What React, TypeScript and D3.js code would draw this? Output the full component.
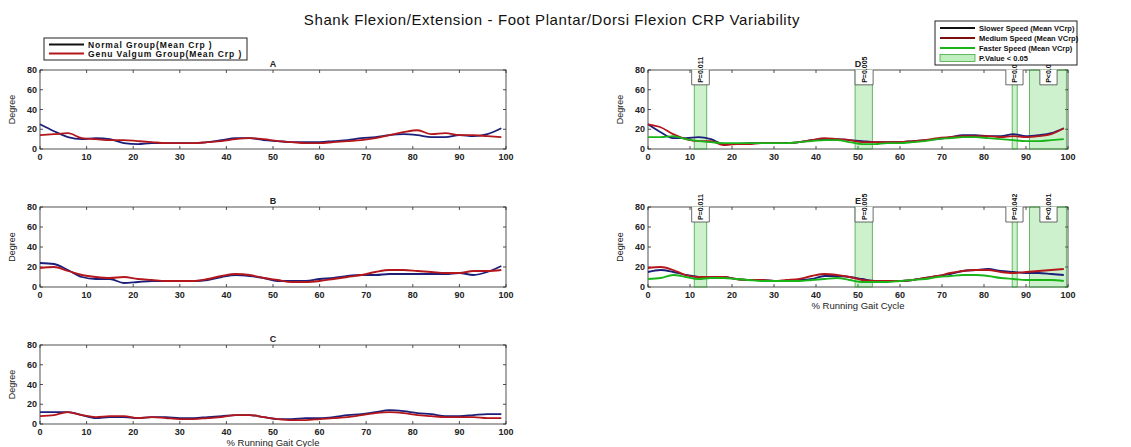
import React from 'react';
import * as d3 from 'd3';

// % of running gait cycle where the curves were sampled
const gaitPct = [0, 3, 6, 9, 12, 15, 18, 21, 24, 27, 30, 33, 36, 39, 42, 45, 48, 51, 54, 57, 60, 63, 66, 69, 72, 75, 78, 81, 84, 87, 90, 93, 96, 99];

// group comparison (left column)
const normalA = [25, 18, 12, 10, 11, 10, 6, 5, 6, 6, 6, 6, 7, 9, 11, 11, 9, 8, 7, 7, 7, 8, 9, 11, 12, 14, 15, 14, 12, 12, 14, 13, 15, 21];
const valgumA = [14, 15, 16, 11, 10, 9, 9, 8, 7, 6, 6, 6, 7, 8, 10, 11, 10, 8, 7, 6, 6, 7, 8, 9, 11, 14, 17, 19, 15, 16, 14, 14, 13, 12];
const normalB = [24, 23, 17, 10, 8, 8, 4, 5, 6, 6, 6, 6, 7, 10, 12, 11, 9, 6, 6, 6, 8, 9, 11, 12, 12, 13, 13, 13, 13, 13, 14, 12, 15, 21];
const valgumB = [19, 20, 16, 12, 10, 9, 10, 8, 7, 6, 6, 6, 8, 11, 13, 12, 9, 7, 5, 5, 6, 8, 10, 12, 15, 17, 17, 16, 15, 14, 14, 16, 16, 17];
const normalC = [12, 12, 12, 9, 6, 7, 7, 6, 7, 7, 6, 6, 7, 8, 9, 9, 7, 5, 5, 6, 6, 7, 9, 10, 12, 14, 13, 11, 10, 8, 8, 9, 10, 10];
const valgumC = [8, 9, 12, 9, 7, 8, 8, 6, 7, 6, 5, 5, 6, 7, 9, 9, 7, 5, 4, 4, 5, 6, 7, 9, 11, 12, 11, 9, 8, 7, 7, 7, 6, 6];

// speed comparison (right column)
const slowerD = [25, 17, 11, 11, 12, 10, 5, 5, 6, 6, 6, 6, 7, 9, 10, 10, 9, 8, 7, 7, 7, 8, 9, 10, 12, 14, 14, 13, 13, 15, 13, 14, 16, 21];
const mediumD = [25, 22, 15, 10, 8, 8, 4, 5, 5, 6, 6, 6, 7, 9, 11, 10, 9, 7, 7, 7, 7, 8, 9, 11, 12, 13, 13, 13, 12, 13, 12, 13, 15, 21];
const fasterD = [12, 12, 13, 10, 8, 7, 6, 6, 6, 6, 6, 6, 7, 8, 9, 9, 7, 5, 5, 6, 6, 7, 8, 10, 11, 12, 12, 11, 10, 9, 8, 8, 9, 10];
const slowerE = [15, 17, 15, 12, 10, 9, 10, 8, 7, 7, 6, 6, 7, 8, 11, 11, 10, 8, 6, 6, 6, 7, 9, 11, 13, 16, 17, 18, 16, 15, 14, 14, 13, 12];
const mediumE = [19, 20, 17, 12, 10, 10, 10, 8, 7, 7, 6, 7, 8, 11, 13, 12, 10, 7, 6, 6, 6, 7, 9, 11, 14, 16, 17, 17, 15, 14, 15, 16, 17, 18];
const fasterE = [8, 9, 12, 10, 8, 9, 9, 8, 7, 6, 6, 6, 6, 7, 8, 9, 7, 5, 5, 5, 6, 7, 8, 10, 11, 12, 12, 11, 9, 8, 7, 7, 7, 6];

// significant windows (P < 0.05) and their annotation boxes
const sigStart = [11, 49.3, 86.7, 90.8];
const sigEnd = [14, 53.4, 87.9, 99.6];
const boxStart = [10.4, 49.3, 85.2, 93.3];
const boxEnd = [14.6, 53.6, 89.3, 97.4];
const pLabels = ['P=0.011', 'P=0.005', 'P=0.042', 'P<0.001'];

const xTicks = [0, 10, 20, 30, 40, 50, 60, 70, 80, 90, 100];
const yTicks = [0, 20, 40, 60, 80];

const NAVY = '#1b1f7a';
const RED = '#b3161b';
const GREEN = '#18b418';
const FONT = '"Liberation Sans", Arial, Helvetica, sans-serif';

type Series = { values: number[]; color: string };

function Panel({ left, right, top, bottom, title, series, sig, xLabel }: {
  left: number; right: number; top: number; bottom: number; title: string;
  series: Series[]; sig?: boolean; xLabel?: number;
}) {
  const x = d3.scaleLinear().domain([0, 100]).range([left, right]);
  const y = d3.scaleLinear().domain([0, 80]).range([bottom, top]);
  const line = d3.line<number>()
    .x((_, i) => x(gaitPct[i]))
    .y(d => y(d))
    .curve(d3.curveMonotoneX);

  return (
    <g fontFamily={FONT}>
      <rect x={left} y={top} width={right - left} height={bottom - top} fill="white" stroke="#262626" strokeWidth={0.8} />
      {xTicks.map(t => (
        <g key={'x' + t}>
          <line x1={x(t)} x2={x(t)} y1={bottom} y2={bottom - 3} stroke="#262626" strokeWidth={0.8} />
          <line x1={x(t)} x2={x(t)} y1={top} y2={top + 3} stroke="#262626" strokeWidth={0.8} />
          <text x={x(t)} y={bottom + 11} textAnchor="middle" fontSize={9} fontWeight="bold" fill="#222">{t}</text>
        </g>
      ))}
      {yTicks.map(t => (
        <g key={'y' + t}>
          <line x1={left} x2={left + 3} y1={y(t)} y2={y(t)} stroke="#262626" strokeWidth={0.8} />
          <line x1={right} x2={right - 3} y1={y(t)} y2={y(t)} stroke="#262626" strokeWidth={0.8} />
          <text x={left - 3} y={y(t) + 3.2} textAnchor="end" fontSize={9} fontWeight="bold" fill="#222">{t}</text>
        </g>
      ))}
      <text transform={`translate(${left - 25},${(top + bottom) / 2}) rotate(-90)`} textAnchor="middle" fontSize={9} fill="#222">Degree</text>
      {sig && sigStart.map((s, i) => (
        <rect key={'s' + i} x={x(s)} y={y(80)} width={x(sigEnd[i]) - x(s)} height={y(0) - y(80)}
          fill="#3cc83c" fillOpacity={0.26} stroke="#2f9a2f" strokeWidth={0.7} />
      ))}
      {series.map((s, i) => (
        <path key={'l' + i} d={line(s.values) || ''} fill="none" stroke={s.color} strokeWidth={1.8} />
      ))}
      {sig && boxStart.map((s, i) => {
        const bx0 = x(s), bx1 = x(boxEnd[i]);
        return (
          <g key={'b' + i}>
            <rect x={bx0} y={y(80) - 0.4} width={bx1 - bx0} height={y(65) - y(80) + 0.4} fill="white" />
            <path d={`M${bx0},${y(80)}V${y(65)}H${bx1}V${y(80)}`} fill="none" stroke="#444" strokeWidth={0.8} />
            <text transform={`translate(${(bx0 + bx1) / 2 + 2.5},${y(65) - 2}) rotate(-90)`} fontSize={7} fontWeight="bold" fill="#111">{pLabels[i]}</text>
          </g>
        );
      })}
      <text x={x(50)} y={top - 3} textAnchor="middle" fontSize={9} fontWeight="bold" fill="#222">{title}</text>
      {xLabel !== undefined && (
        <text x={(left + right) / 2} y={xLabel} textAnchor="middle" fontSize={9.5} fill="#222">% Running Gait Cycle</text>
      )}
    </g>
  );
}

function Legend({ x0, y0, w, h, items, fontSize, spacing }: {
  x0: number; y0: number; w: number; h: number; fontSize: number; spacing: number;
  items: { label: string; color: string; patch?: boolean }[];
}) {
  const rowH = (h - 4) / items.length;
  return (
    <g fontFamily={FONT}>
      <rect x={x0} y={y0} width={w} height={h} fill="white" stroke="#222" strokeWidth={1} />
      {items.map((it, i) => {
        const cy = y0 + 2 + rowH * (i + 0.5);
        return (
          <g key={it.label}>
            {it.patch
              ? <rect x={x0 + 5} y={cy - 3.5} width={35} height={7} fill="#bfeebf" stroke="#2f9a2f" strokeWidth={0.7} />
              : <line x1={x0 + 5} x2={x0 + 40} y1={cy} y2={cy} stroke={it.color} strokeWidth={1.8} />}
            <text x={x0 + 44} y={cy + fontSize * 0.36} fontSize={fontSize} letterSpacing={spacing} fontWeight="bold" fill="#111">{it.label}</text>
          </g>
        );
      })}
    </g>
  );
}

export default function App() {
  const L = { left: 40, right: 506 };
  const R = { left: 648, right: 1068 };
  return (
    <svg width={1131} height={447} style={{ position: 'absolute', left: 0, top: 0, background: 'white' }}>
      <rect width={1131} height={447} fill="white" />
      <text x={552} y={25} textAnchor="middle" fontFamily={FONT} fontSize={15} letterSpacing={0.6} fill="#111">
        Shank Flexion/Extension - Foot Plantar/Dorsi Flexion CRP Variability
      </text>
      <Panel {...L} top={70} bottom={149} title="A"
        series={[{ values: normalA, color: NAVY }, { values: valgumA, color: RED }]} />
      <Panel {...L} top={207} bottom={287} title="B"
        series={[{ values: normalB, color: NAVY }, { values: valgumB, color: RED }]} />
      <Panel {...L} top={345} bottom={424} title="C" xLabel={446}
        series={[{ values: normalC, color: NAVY }, { values: valgumC, color: RED }]} />
      <Panel {...R} top={70} bottom={149} title="D" sig
        series={[{ values: slowerD, color: NAVY }, { values: mediumD, color: RED }, { values: fasterD, color: GREEN }]} />
      <Panel {...R} top={207} bottom={287} title="E" sig xLabel={309}
        series={[{ values: slowerE, color: NAVY }, { values: mediumE, color: RED }, { values: fasterE, color: GREEN }]} />
      <Legend x0={44} y0={38} w={203} h={22} fontSize={8.5} spacing={0.9} items={[
        { label: 'Normal Group(Mean Crp )', color: '#111' },
        { label: 'Genu Valgum Group(Mean Crp )', color: RED },
      ]} />
      <Legend x0={935} y0={21} w={142} h={44} fontSize={7.5} spacing={0} items={[
        { label: 'Slower Speed (Mean VCrp)', color: '#111' },
        { label: 'Medium Speed (Mean VCrp)', color: '#7a1010' },
        { label: 'Faster Speed (Mean VCrp)', color: GREEN },
        { label: 'P.Value < 0.05', color: GREEN, patch: true },
      ]} />
    </svg>
  );
}
